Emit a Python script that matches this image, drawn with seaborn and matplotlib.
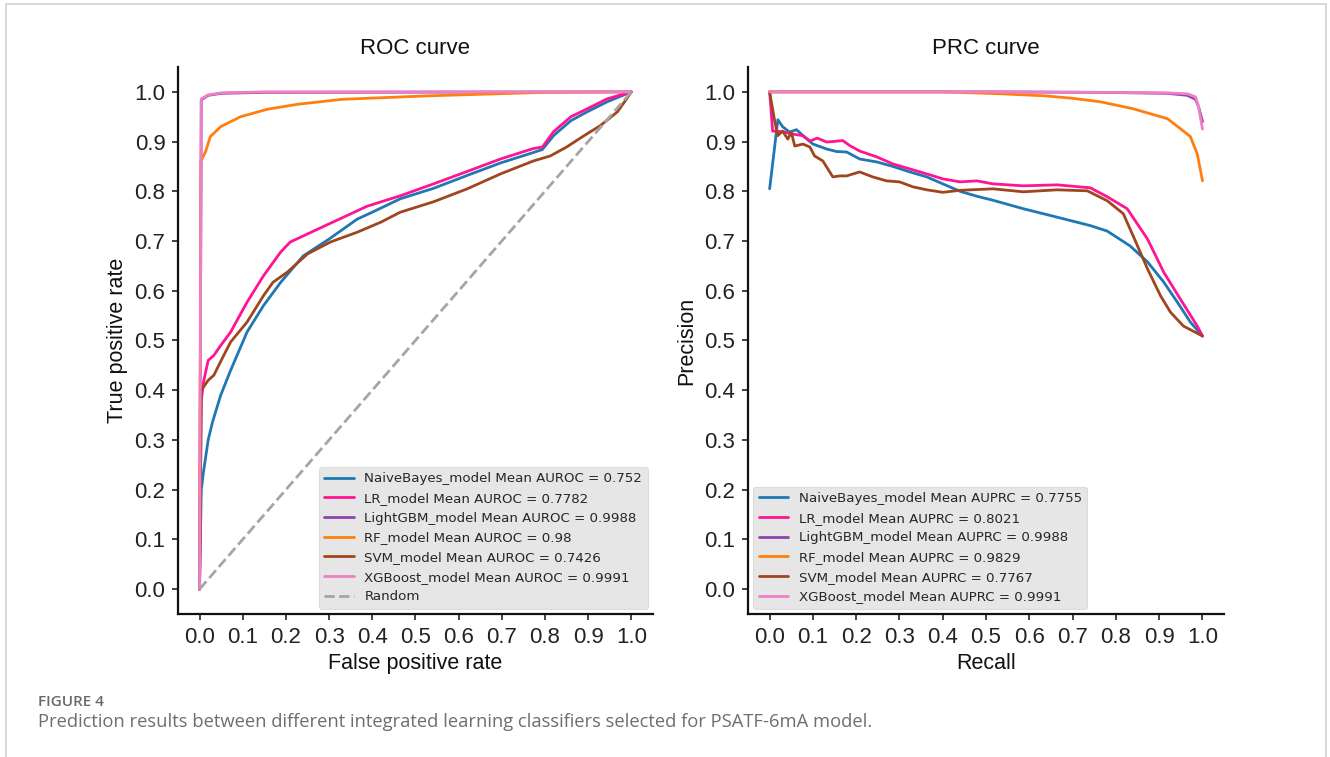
import numpy as np
import matplotlib
matplotlib.use("Agg")
import matplotlib.pyplot as plt
import seaborn as sns
from matplotlib.patches import Rectangle

# ---------------- data ----------------
models = ["NaiveBayes_model", "LR_model", "LightGBM_model", "RF_model", "SVM_model", "XGBoost_model"]
auroc = ["0.752", "0.7782", "0.9988", "0.98", "0.7426", "0.9991"]
auprc = ["0.7755", "0.8021", "0.9988", "0.9829", "0.7767", "0.9991"]

# ROC curves
nb_fpr = [0, 0.004, 0.009, 0.02, 0.03, 0.049, 0.072, 0.11, 0.148, 0.188, 0.24, 0.30, 0.365, 0.40,
          0.465, 0.542, 0.62, 0.697, 0.773, 0.794, 0.82, 0.86, 0.898, 0.944, 1.0]
nb_tpr = [0, 0.20, 0.235, 0.30, 0.336, 0.39, 0.44, 0.517, 0.57, 0.617, 0.67, 0.704, 0.744, 0.758,
          0.785, 0.806, 0.832, 0.857, 0.878, 0.884, 0.912, 0.942, 0.96, 0.98, 1.0]
lr_fpr = [0, 0.004, 0.01, 0.02, 0.033, 0.049, 0.072, 0.11, 0.148, 0.188, 0.21, 0.264, 0.326, 0.388,
          0.465, 0.542, 0.62, 0.697, 0.773, 0.794, 0.82, 0.86, 0.898, 0.944, 1.0]
lr_tpr = [0, 0.38, 0.42, 0.46, 0.47, 0.49, 0.517, 0.577, 0.63, 0.678, 0.698, 0.72, 0.745, 0.77,
          0.791, 0.815, 0.84, 0.865, 0.886, 0.889, 0.92, 0.95, 0.966, 0.986, 1.0]
lgbm_fpr = [0, 0.004, 0.02, 0.05, 0.15, 1.0]
lgbm_tpr = [0, 0.984, 0.993, 0.997, 0.999, 1.0]
rf_fpr = [0, 0.003, 0.014, 0.025, 0.049, 0.095, 0.157, 0.227, 0.33, 0.53, 0.8, 1.0]
rf_tpr = [0, 0.86, 0.88, 0.91, 0.93, 0.95, 0.965, 0.975, 0.985, 0.992, 0.999, 1.0]
svm_fpr = [0, 0.004, 0.02, 0.033, 0.056, 0.072, 0.11, 0.148, 0.17, 0.204, 0.25, 0.303, 0.366, 0.42,
           0.465, 0.542, 0.62, 0.697, 0.773, 0.812, 0.85, 0.889, 0.928, 0.968, 0.99, 1.0]
svm_tpr = [0, 0.40, 0.42, 0.43, 0.47, 0.497, 0.537, 0.59, 0.617, 0.638, 0.674, 0.698, 0.718, 0.738,
           0.758, 0.779, 0.805, 0.835, 0.861, 0.871, 0.889, 0.911, 0.932, 0.96, 0.987, 1.0]
xgb_fpr = [0, 0.004, 0.02, 0.05, 0.15, 1.0]
xgb_tpr = [0, 0.986, 0.994, 0.998, 1.0, 1.0]
rand_x = [0, 1]
rand_y = [0, 1]

# PR curves
nb_rec = [0, 0.019, 0.03, 0.046, 0.062, 0.077, 0.1, 0.132, 0.155, 0.178, 0.208, 0.248, 0.285, 0.324,
          0.363, 0.4, 0.44, 0.479, 0.516, 0.586, 0.664, 0.741, 0.78, 0.833, 0.873, 0.91, 0.942, 0.972, 1.0]
nb_prec = [0.805, 0.944, 0.93, 0.919, 0.924, 0.912, 0.895, 0.885, 0.88, 0.879, 0.865, 0.859, 0.85, 0.839,
           0.829, 0.815, 0.80, 0.79, 0.782, 0.765, 0.748, 0.731, 0.72, 0.69, 0.658, 0.618, 0.577, 0.537, 0.509]
lr_rec = [0, 0.007, 0.03, 0.053, 0.077, 0.093, 0.11, 0.132, 0.169, 0.185, 0.208, 0.248, 0.285, 0.324,
          0.363, 0.4, 0.44, 0.479, 0.516, 0.586, 0.664, 0.741, 0.78, 0.826, 0.873, 0.91, 0.949, 0.988, 1.0]
lr_prec = [1.0, 0.921, 0.92, 0.915, 0.912, 0.901, 0.907, 0.899, 0.902, 0.892, 0.881, 0.869, 0.855, 0.845,
           0.835, 0.825, 0.819, 0.821, 0.815, 0.811, 0.813, 0.807, 0.789, 0.765, 0.704, 0.638, 0.583, 0.529, 0.509]
lgbm_rec = [0, 0.5, 0.764, 0.919, 0.965, 0.984, 0.991, 1.0]
lgbm_prec = [1.0, 1.0, 0.999, 0.997, 0.993, 0.985, 0.97, 0.94]
rf_rec = [0, 0.398, 0.537, 0.636, 0.7, 0.764, 0.84, 0.919, 0.949, 0.972, 0.988, 1.0]
rf_prec = [1.0, 1.0, 0.996, 0.992, 0.987, 0.98, 0.966, 0.946, 0.926, 0.91, 0.875, 0.821]
svm_rec = [0, 0.012, 0.019, 0.03, 0.042, 0.05, 0.058, 0.077, 0.093, 0.104, 0.123, 0.146, 0.162, 0.178,
           0.208, 0.238, 0.27, 0.3, 0.331, 0.363, 0.4, 0.44, 0.516, 0.586, 0.664, 0.734, 0.78, 0.817,
           0.84, 0.873, 0.903, 0.926, 0.956, 1.0]
svm_prec = [1.0, 0.94, 0.912, 0.921, 0.905, 0.919, 0.891, 0.895, 0.889, 0.871, 0.861, 0.829, 0.831, 0.831,
            0.839, 0.829, 0.821, 0.819, 0.809, 0.803, 0.798, 0.802, 0.805, 0.799, 0.803, 0.801, 0.781, 0.755,
            0.71, 0.644, 0.59, 0.557, 0.529, 0.509]
xgb_rec = [0, 0.5, 0.764, 0.919, 0.965, 0.984, 0.991, 1.0]
xgb_prec = [1.0, 1.0, 0.999, 0.998, 0.996, 0.99, 0.97, 0.925]

ticks = [0.0, 0.1, 0.2, 0.3, 0.4, 0.5, 0.6, 0.7, 0.8, 0.9, 1.0]

# ---------------- style ----------------
colors = ["#1f77b4", "#ff1493", "#8e44ad", "#ff7f0e", "#a0461e", "#ee7fc6"]

sns.set_style("ticks")
plt.rcParams["font.family"] = ["Liberation Sans", "DejaVu Sans"]

fig = plt.figure(figsize=(13.3, 7.57), dpi=100)
fig.patch.set_facecolor("white")

ax1 = fig.add_axes([0.1338, 0.1889, 0.3571, 0.7226])
ax2 = fig.add_axes([0.5624, 0.1889, 0.3580, 0.7226])

roc_x = [nb_fpr, lr_fpr, lgbm_fpr, rf_fpr, svm_fpr, xgb_fpr]
roc_y = [nb_tpr, lr_tpr, lgbm_tpr, rf_tpr, svm_tpr, xgb_tpr]
prc_x = [nb_rec, lr_rec, lgbm_rec, rf_rec, svm_rec, xgb_rec]
prc_y = [nb_prec, lr_prec, lgbm_prec, rf_prec, svm_prec, xgb_prec]

for i, m in enumerate(models):
    sns.lineplot(x=roc_x[i], y=roc_y[i], ax=ax1, color=colors[i], lw=2.0,
                 estimator=None, sort=False, label=f"{m} Mean AUROC = {auroc[i]}")
sns.lineplot(x=rand_x, y=rand_y, ax=ax1, color="#a5a5a5", lw=2.0, linestyle="--",
             estimator=None, sort=False, label="Random")

for i, m in enumerate(models):
    sns.lineplot(x=prc_x[i], y=prc_y[i], ax=ax2, color=colors[i], lw=2.0,
                 estimator=None, sort=False, label=f"{m} Mean AUPRC = {auprc[i]}")

for ax, title, xl, yl, loc in [(ax1, "ROC curve", "False positive rate", "True positive rate", "lower right"),
                               (ax2, "PRC curve", "Recall", "Precision", "lower left")]:
    ax.set_xlim(-0.05, 1.05)
    ax.set_ylim(-0.05, 1.05)
    ax.set_xticks(ticks)
    ax.set_yticks(ticks)
    ax.set_xticklabels([f"{t:.1f}" for t in ticks])
    ax.set_yticklabels([f"{t:.1f}" for t in ticks])
    ax.tick_params(labelsize=16, length=4, width=1.2, colors="#222222", pad=5)
    ax.set_title(title, fontsize=16, color="#111111", pad=9)
    ax.set_xlabel(xl, fontsize=15.5, color="#111111", labelpad=4)
    ax.set_ylabel(yl, fontsize=15.5, color="#111111", labelpad=5)
    for s in ["left", "bottom"]:
        ax.spines[s].set_linewidth(1.6)
        ax.spines[s].set_color("#111111")
    sns.despine(ax=ax)
    leg = ax.legend(loc=loc, prop={"family": "DejaVu Sans", "size": 9.6}, frameon=True,
                    facecolor="#e6e6e6", edgecolor="#dcdcdc", framealpha=1.0,
                    borderaxespad=0.4, handlelength=2.2)
    leg.get_frame().set_linewidth(0.8)

# page frame and caption
fig.add_artist(Rectangle((6 / 1330, -0.2), (1326 - 6) / 1330, 1.2 - 4 / 757,
                         transform=fig.transFigure, fill=False, edgecolor="#d2d2d2", lw=1.2))
fig.text(38 / 1330, 1 - 702 / 757, "FIGURE 4", fontsize=11, color="#6a6a6a",
         family=["Open Sans", "DejaVu Sans"], fontweight="semibold", va="center", ha="left")
fig.text(38 / 1330, 1 - 722 / 757,
         "Prediction results between different integrated learning classifiers selected for PSATF-6mA model.",
         fontsize=13.2, color="#6e6e6e", family=["Open Sans", "DejaVu Sans"], va="center", ha="left")

fig.savefig("out.png", dpi=100, facecolor="white")
